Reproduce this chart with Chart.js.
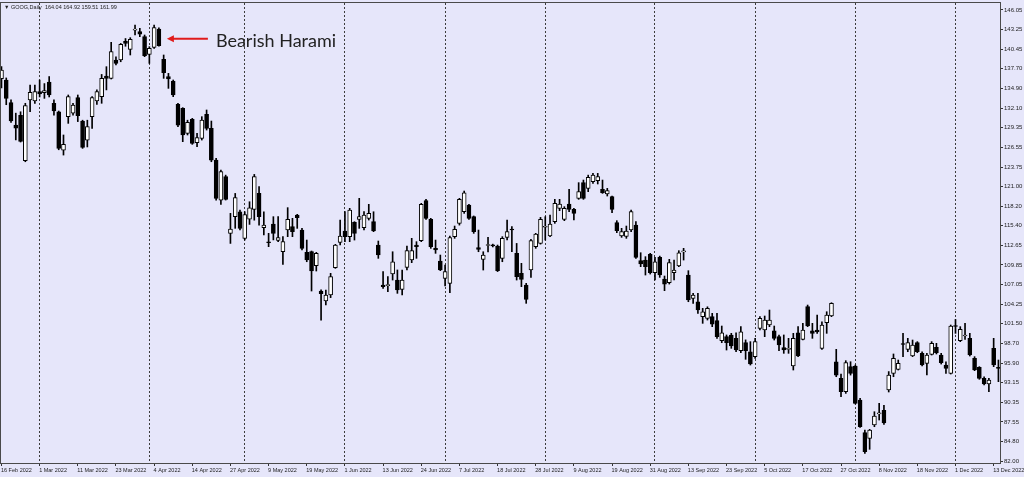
<!DOCTYPE html>
<html>
<head>
<meta charset="utf-8">
<script src="https://cdn.jsdelivr.net/npm/chart.js@4.4.1/dist/chart.umd.min.js"></script>
<style>
    html, body { margin: 0; padding: 0; background: #e6e6fa; }
    canvas { display: block; }
</style>
</head>
<body>
<canvas id="goog" width="1024" height="477"></canvas>
<script>
// GOOG daily candles, 16 Feb 2022 .. 14 Dec 2022 (index = bar number)
const open = [
    136.3, 136.1, 132.9, 129.7, 131.1, 124.65, 133.27, 133.13, 134.45, 134.3,
    135.8, 132.79, 131.6, 126.16, 130.9, 131.4, 133.6, 130.28, 127.58, 130.9,
    133.13, 133.74, 136.67, 136.34, 138.95, 138.95, 141.6, 140.46, 143.2, 142.97,
    142.26, 139.75, 140.75, 143.35, 139.04, 136.58, 135.97, 132.65, 132.08, 128.53,
    130.52, 127.2, 127.82, 131.23, 129.24, 124.74, 119.06, 122.38, 114.33, 116.7,
    117.4, 113.6, 116.36, 117.74, 120.01, 115.14, 113.1, 115.66, 113.34, 111.73,
    114.8, 115.28, 116.93, 114.8, 111.63, 111.73, 109.74, 106.14, 104.72, 105.57,
    109.45, 113.05, 114.66, 113.86, 115.9, 116.32, 115.14, 116.46, 116.0, 112.67,
    107.0, 106.9, 108.56, 107.7, 106.38, 109.5, 110.55, 112.67, 113.29, 118.97,
    116.32, 112.2, 110.4, 107.94, 107.23, 113.86, 115.75, 117.41, 118.36, 116.7,
    112.3, 110.64, 112.6, 112.6, 112.53, 110.78, 113.76, 114.9, 111.49, 108.65,
    106.99, 109.12, 112.44, 112.91, 115.2, 113.95, 115.99, 117.88, 116.32, 118.5,
    117.74, 119.3, 121.53, 120.72, 121.67, 121.81, 120.58, 119.92, 119.54, 115.85,
    113.95, 113.9, 114.8, 115.5, 110.45, 110.54, 111.35, 108.74, 110.92, 107.84,
    107.32, 108.74, 109.69, 111.7, 108.41, 105.1, 104.62, 102.5, 102.26, 102.5,
    101.93, 99.09, 99.66, 99.9, 99.42, 97.67, 98.8, 97.52, 96.82, 100.84,
    100.6, 101.31, 100.5, 99.66, 98.09, 97.86, 95.49, 100.22, 99.28, 103.92,
    100.5, 100.6, 97.99, 101.64, 102.59, 96.1, 93.74, 91.84, 95.4, 95.49,
    90.66, 86.02, 85.2, 87.11, 88.7, 89.2, 92.08, 94.45, 95.02, 98.6,
    97.86, 96.91, 98.8, 97.29, 95.87, 97.15, 98.14, 97.05, 95.63, 94.45,
    101.2, 99.09, 99.75, 99.42, 96.58, 95.3, 93.74, 92.93, 98.0, 95.2
];
const high = [
    138.0, 136.4, 133.3, 131.4, 131.6, 132.8, 135.4, 135.4, 136.1, 135.6,
    136.6, 133.3, 131.7, 128.3, 133.98, 132.8, 133.98, 130.4, 130.4, 133.74,
    134.7, 136.9, 138.0, 141.46, 139.4, 141.3, 142.0, 142.12, 143.92, 143.45,
    142.5, 140.84, 143.92, 143.5, 139.66, 137.05, 136.11, 132.8, 132.18, 130.4,
    130.66, 128.53, 130.9, 131.85, 130.28, 124.98, 123.32, 122.6, 117.17, 120.0,
    117.64, 117.4, 118.82, 122.7, 120.96, 117.4, 114.33, 116.7, 116.7, 113.86,
    117.98, 116.46, 117.03, 115.04, 113.38, 111.82, 111.63, 106.3, 106.28, 108.65,
    112.77, 116.22, 117.41, 117.88, 115.99, 119.3, 117.41, 118.45, 117.4, 113.24,
    108.9, 108.18, 111.72, 109.13, 109.13, 112.53, 113.62, 113.15, 118.59, 119.16,
    116.46, 113.38, 111.25, 109.83, 113.95, 115.37, 119.3, 120.34, 118.45, 116.8,
    114.8, 111.72, 113.76, 112.8, 112.67, 113.86, 116.22, 115.28, 112.9, 110.07,
    107.23, 113.48, 114.33, 116.6, 116.7, 116.93, 119.16, 119.16, 118.12, 120.58,
    117.88, 121.53, 121.9, 122.6, 122.85, 122.85, 121.9, 120.72, 119.63, 116.13,
    115.04, 115.37, 117.65, 115.99, 111.58, 111.02, 111.49, 110.92, 111.1, 108.27,
    110.64, 110.54, 111.87, 112.2, 109.03, 105.8, 105.8, 103.68, 103.9, 102.97,
    102.97, 101.17, 99.9, 100.13, 100.22, 101.08, 99.2, 98.95, 99.42, 102.5,
    102.59, 103.44, 101.17, 99.9, 99.9, 99.42, 100.13, 101.08, 101.55, 104.15,
    101.55, 102.73, 101.78, 103.2, 104.48, 97.86, 94.35, 96.25, 96.1, 95.63,
    90.9, 86.4, 86.5, 89.0, 90.19, 89.9, 94.7, 97.2, 96.34, 100.13,
    99.42, 99.18, 98.95, 97.52, 97.29, 98.95, 98.71, 97.29, 96.1, 101.31,
    102.1, 101.08, 101.55, 100.13, 96.82, 95.4, 93.97, 93.74, 99.42, 96.34
];
const low = [
    135.0, 132.6, 130.1, 127.6, 127.3, 124.5, 131.6, 132.8, 133.7, 133.5,
    133.7, 131.1, 126.2, 125.45, 129.95, 131.1, 130.2, 126.4, 126.6, 129.24,
    132.65, 132.8, 134.7, 136.25, 138.24, 138.7, 140.9, 139.66, 142.5, 142.26,
    139.42, 138.47, 140.6, 140.9, 136.34, 134.92, 133.74, 129.48, 127.35, 128.3,
    126.97, 126.64, 127.58, 129.0, 124.5, 119.06, 118.45, 119.06, 112.9, 115.04,
    114.8, 113.38, 115.6, 116.2, 115.5, 114.1, 112.44, 113.4, 113.15, 109.93,
    113.86, 113.86, 115.04, 111.96, 110.3, 106.14, 108.98, 102.0, 104.15, 105.2,
    109.36, 112.67, 113.15, 113.15, 113.38, 115.04, 114.8, 116.22, 114.57, 110.78,
    106.52, 106.05, 107.7, 105.81, 105.57, 109.13, 110.17, 110.78, 113.15, 116.32,
    112.2, 111.49, 109.03, 106.85, 105.9, 113.62, 115.5, 117.17, 116.32, 114.33,
    111.72, 109.12, 111.7, 112.4, 108.9, 110.3, 113.38, 111.73, 107.7, 106.76,
    104.39, 108.08, 112.2, 112.8, 113.38, 113.86, 115.75, 117.55, 116.13, 117.41,
    116.22, 119.16, 119.16, 120.25, 121.43, 121.34, 120.01, 119.63, 117.27, 114.43,
    113.76, 113.62, 114.57, 110.78, 109.6, 108.41, 108.55, 107.7, 108.08, 106.19,
    107.13, 107.7, 109.6, 110.54, 104.62, 104.39, 102.97, 101.55, 102.02, 101.08,
    99.42, 98.8, 97.76, 98.0, 97.52, 97.38, 96.44, 95.63, 96.58, 100.6,
    99.66, 101.08, 99.18, 97.67, 97.29, 97.29, 94.92, 96.81, 99.18, 101.08,
    99.42, 100.13, 97.86, 100.13, 102.5, 93.97, 91.13, 91.6, 94.2, 90.1,
    86.78, 83.09, 83.66, 86.87, 87.82, 87.2, 91.8, 93.97, 94.92, 96.82,
    97.52, 96.82, 97.38, 95.49, 94.21, 97.05, 97.2, 95.77, 94.45, 94.35,
    100.13, 98.95, 99.28, 96.91, 94.83, 93.6, 92.79, 91.84, 95.4, 93.27
];
const close = [
    137.5, 133.5, 130.3, 129.25, 127.4, 132.46, 134.36, 134.45, 134.12, 134.6,
    133.98, 131.7, 126.4, 126.97, 133.74, 132.56, 131.04, 126.54, 129.5, 133.6,
    134.45, 136.34, 136.34, 140.13, 138.48, 141.17, 141.3, 141.88, 143.3, 142.6,
    139.56, 140.6, 143.54, 140.98, 137.15, 136.25, 133.98, 129.7, 128.3, 130.09,
    127.11, 127.92, 130.4, 129.24, 124.74, 119.3, 123.09, 119.15, 114.94, 119.4,
    115.04, 117.0, 117.97, 122.38, 116.7, 115.5, 113.0, 114.33, 113.72, 113.15,
    116.32, 114.57, 116.56, 112.2, 110.54, 108.98, 111.49, 105.76, 105.57, 108.18,
    112.67, 113.95, 113.86, 117.65, 114.33, 116.7, 116.93, 117.17, 114.66, 111.25,
    106.76, 106.92, 110.3, 106.28, 107.7, 111.87, 111.87, 112.44, 118.45, 116.46,
    112.44, 111.96, 109.12, 108.9, 113.72, 114.9, 119.16, 120.1, 116.46, 114.57,
    112.06, 111.25, 112.62, 112.55, 109.03, 113.62, 114.57, 114.8, 108.17, 107.8,
    104.95, 113.29, 114.24, 116.32, 115.28, 115.66, 118.59, 118.5, 117.88, 117.74,
    117.17, 120.25, 119.3, 122.28, 122.6, 122.38, 120.1, 120.39, 117.74, 114.71,
    114.57, 114.65, 117.41, 110.92, 109.98, 109.6, 108.74, 110.3, 108.41, 107.13,
    110.17, 109.12, 111.58, 111.72, 104.86, 105.57, 103.44, 103.2, 103.68, 101.45,
    99.66, 100.22, 98.8, 98.33, 97.76, 100.36, 97.67, 95.77, 98.95, 102.26,
    102.02, 102.02, 99.42, 98.47, 97.76, 97.9, 99.42, 96.91, 100.6, 101.17,
    100.13, 100.32, 101.31, 102.73, 104.39, 94.2, 91.84, 95.96, 94.45, 90.19,
    86.87, 83.32, 86.4, 88.39, 88.8, 87.4, 94.21, 96.58, 95.87, 98.55,
    98.8, 98.47, 97.52, 95.63, 97.05, 98.71, 97.38, 95.96, 95.16, 101.17,
    101.1, 100.7, 99.8, 97.05, 94.92, 93.74, 92.93, 93.5, 95.63, 95.15
];

// time axis labels (bar index -> text) and monthly separators
const tickBars = [0, 8, 16, 24, 32, 40, 48, 56, 64, 72, 80, 88, 96, 104,
    112, 120, 128, 136, 144, 152, 160, 168, 176, 184, 192, 200, 208];
const tickLabels = ['16 Feb 2022', '1 Mar 2022', '11 Mar 2022', '23 Mar 2022', '4 Apr 2022',
    '14 Apr 2022', '27 Apr 2022', '9 May 2022', '19 May 2022', '1 Jun 2022', '13 Jun 2022',
    '24 Jun 2022', '7 Jul 2022', '18 Jul 2022', '28 Jul 2022', '9 Aug 2022', '19 Aug 2022',
    '31 Aug 2022', '13 Sep 2022', '23 Sep 2022', '5 Oct 2022', '17 Oct 2022', '27 Oct 2022',
    '8 Nov 2022', '18 Nov 2022', '1 Dec 2022', '13 Dec 2022'];
const monthStarts = [8, 31, 51, 72, 93, 114, 137, 158, 179, 200];

const priceTicks = [146.05, 143.25, 140.45, 137.70, 134.90, 132.10, 129.35, 126.55, 123.75,
    121.00, 118.20, 115.40, 112.65, 109.85, 107.05, 104.25, 101.50, 98.70, 95.90, 93.15,
    90.35, 87.55, 84.80, 82.00];

const haramiBar = 33;

const X_MIN = -0.1, X_MAX = 209.33;
const Y_MIN = 81.716, Y_MAX = 147.044;
const inkColor = '#1c1c1c';

// frame, header text and the annotation
const overlay = {
    id: 'overlay',
    afterDraw(chart) {
        const { ctx, chartArea: a, scales: { x, y } } = chart;
        ctx.save();
        ctx.strokeStyle = '#4a4a4a';
        ctx.lineWidth = 1;
        ctx.strokeRect(a.left - 0.5, a.top - 0.5, a.right - a.left + 1, a.bottom - a.top + 1);

        ctx.fillStyle = inkColor;
        ctx.font = '5.5px "Liberation Sans"';
        ctx.textBaseline = 'middle';
        ctx.fillText('\u25BC GOOG,Daily  164.04 164.92 159.51 161.99', 4, 7);

        const tipX = x.getPixelForValue(haramiBar) + 8;
        const tipY = y.getPixelForValue((open[haramiBar] + close[haramiBar]) / 2) + 1.5;
        ctx.strokeStyle = '#e01b1b';
        ctx.fillStyle = '#e01b1b';
        ctx.lineWidth = 2;
        ctx.beginPath();
        ctx.moveTo(tipX + 5, tipY);
        ctx.lineTo(tipX + 41, tipY);
        ctx.stroke();
        ctx.beginPath();
        ctx.moveTo(tipX, tipY);
        ctx.lineTo(tipX + 7, tipY - 3.5);
        ctx.lineTo(tipX + 7, tipY + 3.5);
        ctx.closePath();
        ctx.fill();

        ctx.fillStyle = '#222';
        ctx.font = '18px Lato';
        ctx.textBaseline = 'alphabetic';
        ctx.fillText('Bearish Harami', tipX + 49, tipY + 8);
        ctx.restore();
    },
};

const isUp = (i) => close[i] >= open[i];

new Chart(document.getElementById('goog'), {
    type: 'bar',
    data: {
        datasets: [{
            label: 'Body',
            data: open.map((o, i) => ({ x: i, y: [o, close[i]] })),
            backgroundColor: (c) => (isUp(c.dataIndex) ? '#ffffff' : '#000000'),
            borderColor: '#000000',
            borderWidth: 1,
            borderSkipped: false,
            barThickness: 4,
            minBarLength: 1,
        }, {
            label: 'Wick',
            data: high.map((h, i) => ({ x: i, y: [low[i], h] })),
            backgroundColor: '#000000',
            borderWidth: 0,
            barThickness: 1,
        }],
    },
    options: {
        responsive: false,
        animation: false,
        grouped: false,
        layout: { padding: { top: 3, left: 1, right: 0, bottom: 0 } },
        plugins: { legend: { display: false }, tooltip: { enabled: false } },
        scales: {
            x: {
                type: 'linear',
                position: 'bottom',
                offset: false,
                min: X_MIN,
                max: X_MAX,
                afterBuildTicks: (s) => { s.ticks = tickBars.map((v) => ({ value: v })); },
                afterFit: (s) => { s.height = 14; s.paddingLeft = 0; s.paddingRight = 0; },
                ticks: {
                    autoSkip: false,
                    maxRotation: 0,
                    align: 'start',
                    padding: 1,
                    labelOffset: -0.5,
                    font: { family: 'Liberation Sans', size: 5.5 },
                    color: inkColor,
                    callback: (v) => tickLabels[tickBars.indexOf(v)],
                },
                grid: { offset: false, drawOnChartArea: false, drawTicks: true, tickLength: 3, tickColor: '#333' },
                border: { display: false },
            },
            months: {
                type: 'linear',
                position: 'bottom',
                offset: false,
                min: X_MIN,
                max: X_MAX,
                afterBuildTicks: (s) => { s.ticks = monthStarts.map((v) => ({ value: v })); },
                afterFit: (s) => { s.height = 0; s.paddingLeft = 0; s.paddingRight = 0; },
                ticks: { display: false },
                grid: { offset: false, drawOnChartArea: true, drawTicks: false, color: '#3c3c3c', lineWidth: 1 },
                border: { display: false, dash: [2, 2] },
            },
            y: {
                type: 'linear',
                position: 'right',
                min: Y_MIN,
                max: Y_MAX,
                afterBuildTicks: (s) => { s.ticks = priceTicks.map((v) => ({ value: v })); },
                afterFit: (s) => { s.width = 24; s.paddingTop = 0; s.paddingBottom = 0; },
                ticks: {
                    padding: 1,
                    font: { family: 'Liberation Sans', size: 6 },
                    color: inkColor,
                    callback: (v) => v.toFixed(2),
                },
                grid: { drawOnChartArea: false, drawTicks: true, tickLength: 3, tickColor: '#333' },
                border: { display: false },
            },
        },
    },
    plugins: [overlay],
});
</script>
</body>
</html>
